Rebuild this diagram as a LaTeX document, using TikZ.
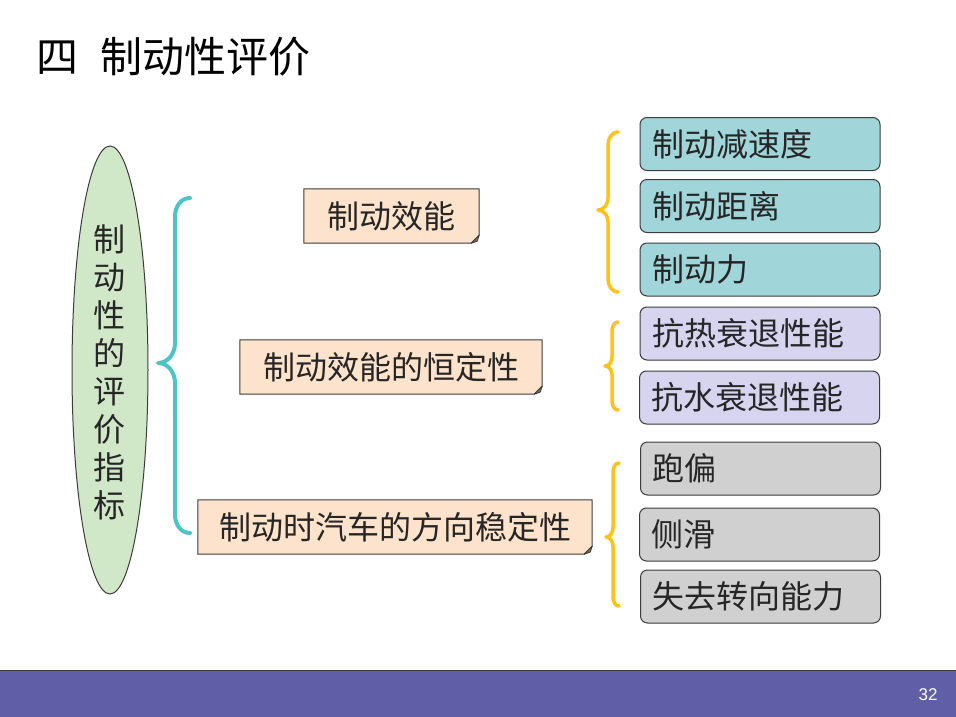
\documentclass[tikz,border=0pt]{standalone}
\usepackage{fontspec}
\setmainfont{Noto Sans CJK SC}
\newfontfamily\latinsans{Liberation Sans}
\usetikzlibrary{shapes.geometric}
\definecolor{peach}{HTML}{FDE3CB}
\definecolor{rootgreen}{HTML}{D1E8C8}
\definecolor{tealbrace}{HTML}{4EC3C8}
\definecolor{orangebrace}{HTML}{FFC21A}
\definecolor{tealfill}{HTML}{A0D5D9}
\definecolor{lavfill}{HTML}{D6D4EE}
\definecolor{grayfill}{HTML}{D0D0D0}
\definecolor{footer}{HTML}{5F5EA7}
\definecolor{txt}{HTML}{262626}
\definecolor{edge}{HTML}{3C3C3C}
\tikzset{
  bodyfont/.style={font=\fontsize{32}{38}\selectfont, text=txt},
  peachbox/.style={bodyfont, minimum height=54pt, inner sep=0pt},
  itembox/.style={bodyfont, draw=edge, line width=1pt, rounded corners=7pt,
    minimum height=53pt, text width=216pt, inner xsep=12pt, inner ysep=0pt, align=left},
  tealbox/.style={itembox, fill=tealfill},
  lavbox/.style={itembox, fill=lavfill},
  graybox/.style={itembox, fill=grayfill},
  tealline/.style={draw=tealbrace, line width=4pt, line cap=round, line join=round},
  orangeline/.style={draw=orangebrace, line width=3.5pt, line cap=round, line join=round},
}
\newcommand\foldbox[1]{%
  \fill[peach, draw=edge, line width=1pt, line join=round]
    (#1.south west) -- (#1.north west) -- (#1.north east)
    -- ([yshift=8pt]#1.south east) -- ([xshift=-8pt]#1.south east) -- cycle;
  \fill[edge!70!peach, draw=edge, line width=0.8pt, line join=round]
    ([yshift=8pt]#1.south east) -- ([xshift=-8pt]#1.south east)
    -- ([xshift=-2pt,yshift=2pt]#1.south east) -- cycle;
}
\begin{document}
\begin{tikzpicture}[x=1pt,y=-1pt]
\useasboundingbox (0,0) rectangle (956,717);
\fill[white] (0,0) rectangle (956,717);

% title
\node[anchor=west, inner sep=0pt, font=\fontsize{42}{48}\selectfont, text=black] (title) at (36,57)
  {四\hspace{22pt}制动性评价};

% root ellipse
\node[ellipse, draw=edge, line width=1pt, fill=rootgreen, minimum width=76pt, minimum height=448pt, inner sep=0pt] (root) at (110,370) {};
\node[bodyfont, align=center, inner sep=0pt] (roottext) at (109,372)
  {制\\动\\性\\的\\评\\价\\指\\标};

% teal brace
\draw[tealline] (190,198) to[out=180,in=90] (175,216) -- (175,343)
  to[out=-90,in=0] (158,363) to[out=0,in=90] (175,383) -- (175,515)
  to[out=-90,in=180] (190,533);

% middle boxes
\node[peachbox, minimum width=175pt] (eff) at (391.5,216) {};
\foldbox{eff}
\node[bodyfont, inner sep=0pt] (efftext) at (eff.center) {制动效能};

\node[peachbox, minimum width=302pt] (const) at (391,367) {};
\foldbox{const}
\node[bodyfont, inner sep=0pt] (consttext) at (const.center) {制动效能的恒定性};

\node[peachbox, minimum width=394pt] (dir) at (395,527) {};
\foldbox{dir}
\node[bodyfont, inner sep=0pt] (dirtext) at (dir.center) {制动时汽车的方向稳定性};

% orange braces
\draw[orangeline] (618,132) to[out=180,in=90] (608,145) -- (608,198)
  to[out=-90,in=0] (598,210) to[out=0,in=90] (608,222) -- (608,279)
  to[out=-90,in=180] (618,292);
\draw[orangeline] (618,322) to[out=180,in=90] (612,332) -- (612,357)
  to[out=-90,in=0] (605,366) to[out=0,in=90] (612,375) -- (612,400)
  to[out=-90,in=180] (618,410);
\draw[orangeline] (619,463) to[out=180,in=90] (613,474) -- (613,527)
  to[out=-90,in=0] (606,537) to[out=0,in=90] (613,547) -- (613,595)
  to[out=-90,in=180] (619,606);

% right boxes
\node[tealbox] (decel) at (760,144) {制动减速度};
\node[tealbox] (dist) at (760,206) {制动距离};
\node[tealbox] (force) at (760,269.5) {制动力};
\node[lavbox] (heat) at (760,333.5) {抗热衰退性能};
\node[lavbox] (water) at (759.5,397.5) {抗水衰退性能};
\node[graybox] (pull) at (760.5,468.5) {跑偏};
\node[graybox] (slide) at (759.5,534.5) {侧滑};
\node[graybox] (steer) at (760.5,596.5) {失去转向能力};

% footer
\fill[footer] (0,670) rectangle (956,717);
\draw[edge, line width=1pt] (0,670) -- (956,670);
\node[text=white, font=\latinsans\fontsize{17}{20}\selectfont, inner sep=0pt] (pagenum) at (928,695) {32};
\end{tikzpicture}
\end{document}
